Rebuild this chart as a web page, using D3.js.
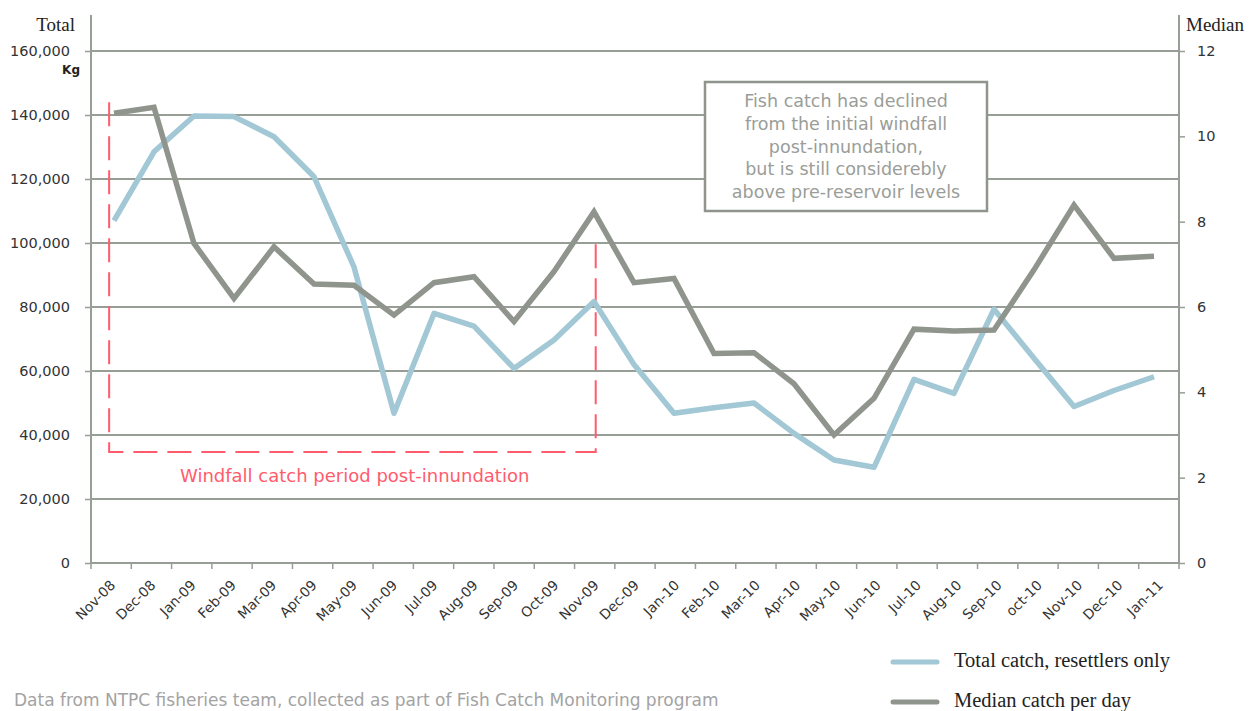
<!DOCTYPE html>
<html>
<head>
<meta charset="utf-8">
<script src="https://cdn.jsdelivr.net/npm/d3@7"></script>
<style>
  body { margin: 0; background: #fff; }
  svg { display: block; }
</style>
</head>
<body>
<div id="chart"></div>
<script>
// months on the category axis
const months = ["Nov-08","Dec-08","Jan-09","Feb-09","Mar-09","Apr-09","May-09","Jun-09","Jul-09","Aug-09","Sep-09","Oct-09","Nov-09",
  "Dec-09","Jan-10","Feb-10","Mar-10","Apr-10","May-10","Jun-10","Jul-10","Aug-10","Sep-10","oct-10","Nov-10","Dec-10","Jan-11"];

// total catch, resettlers only (kg) - left axis
const totalCatch = [107000,128500,139700,139500,133200,120700,92500,46800,78000,74000,60800,69700,81700,
  62000,46800,48500,50000,40500,32200,29900,57400,53000,79300,64000,48900,53900,58200];

// median catch per day - right axis
const medianCatch = [10.54,10.68,7.49,6.2,7.41,6.54,6.51,5.81,6.57,6.71,5.66,6.83,8.23,
  6.57,6.67,4.91,4.93,4.2,3.0,3.86,5.48,5.44,5.46,6.87,8.39,7.14,7.19];

const leftTicks = [0,20000,40000,60000,80000,100000,120000,140000,160000];
const rightTicks = [0,2,4,6,8,10,12];

const noteLines = ["Fish catch has declined","from the initial windfall","post-innundation,",
  "but is still considerebly","above pre-reservoir levels"];

const width = 1252, height = 711;
const x0 = 91, x1 = 1179, yTop = 51, yBot = 563;
const gridCol = "#979e95", blue = "#a2c7d5", grey = "#8f958d", red = "#ff5b6c";
const sans = "'DejaVu Sans', Verdana, sans-serif", serif = "'Liberation Serif', 'Times New Roman', serif";

const svg = d3.select("#chart").append("svg")
  .attr("width", width).attr("height", height);

const yL = d3.scaleLinear().domain([0,160000]).range([yBot,yTop]);
const yR = d3.scaleLinear().domain([0,12]).range([yBot,yTop]);
const xBand = d3.scaleBand().domain(months).range([x0,x1]);
// the plotted lines sit a little inside the category bands in the original
const xLine = d3.scalePoint().domain(months).range([114,1154]);

// grid
svg.append("g").selectAll("line")
  .data(leftTicks.filter(d => d > 0))
  .enter().append("line")
  .attr("x1", x0).attr("x2", x1)
  .attr("y1", d => yL(d)).attr("y2", d => yL(d))
  .attr("stroke", gridCol).attr("stroke-width", 2);

// left axis
const gl = svg.append("g").attr("transform", `translate(${x0},0)`)
  .call(d3.axisLeft(yL).tickValues(leftTicks).tickSize(6).tickPadding(15)
    .tickFormat(d3.format(",")));
gl.select(".domain").remove();
gl.selectAll(".tick line").attr("stroke", gridCol).attr("stroke-width", 1.5);
gl.selectAll("text").attr("font-family", sans)
  .attr("font-size", 14.5).attr("fill", "#333");

// right axis
const gr = svg.append("g").attr("transform", `translate(${x1},0)`)
  .call(d3.axisRight(yR).tickValues(rightTicks).tickSize(6).tickPadding(12));
gr.select(".domain").remove();
gr.selectAll(".tick line").attr("stroke", gridCol).attr("stroke-width", 1.5);
gr.selectAll("text").attr("font-family", sans)
  .attr("font-size", 14.5).attr("fill", "#333");

// bottom axis, labels at band centres, ticks at band edges
const gx = svg.append("g").attr("transform", `translate(0,${yBot})`)
  .call(d3.axisBottom(xBand).tickSize(0).tickPadding(0));
gx.select(".domain").remove();
gx.selectAll(".tick text")
  .attr("font-family", sans)
  .attr("font-size", 13.8).attr("fill", "#333")
  .attr("text-anchor", "end")
  .attr("dy", 0)
  .attr("transform", "translate(5,23) rotate(-45)");
svg.append("g").selectAll("line")
  .data(months.concat(["end"]))
  .enter().append("line")
  .attr("x1", (d,i) => x0 + i*xBand.step()).attr("x2", (d,i) => x0 + i*xBand.step())
  .attr("y1", yBot).attr("y2", yBot + 6)
  .attr("stroke", gridCol).attr("stroke-width", 1.5);

// axis lines
svg.append("line").attr("x1", x0).attr("x2", x0).attr("y1", 15).attr("y2", yBot)
  .attr("stroke", gridCol).attr("stroke-width", 2);
svg.append("line").attr("x1", x1).attr("x2", x1).attr("y1", 15).attr("y2", yBot)
  .attr("stroke", gridCol).attr("stroke-width", 2);
svg.append("line").attr("x1", x0).attr("x2", x1).attr("y1", yBot).attr("y2", yBot)
  .attr("stroke", gridCol).attr("stroke-width", 2);

// axis titles
svg.append("text").attr("x", 75).attr("y", 31).attr("text-anchor", "end")
  .attr("font-family", serif).attr("font-size", 19).attr("fill", "#222")
  .text("Total");
svg.append("text").attr("x", 80).attr("y", 74).attr("text-anchor", "end")
  .attr("font-family", sans).attr("font-size", 12).attr("font-weight", "bold")
  .attr("fill", "#222").text("Kg");
svg.append("text").attr("x", 1186).attr("y", 31)
  .attr("font-family", serif).attr("font-size", 19).attr("fill", "#222")
  .text("Median");

// windfall period box
const winTop = 144000, winBot = 34700;
svg.append("path")
  .attr("d", `M${xBand("Nov-08") + xBand.bandwidth()/2 - 2},${yL(winTop)} V${yL(winBot)} H${xBand("Nov-09") + xBand.bandwidth()/2 + 1} V${yL(100000)}`)
  .attr("fill", "none").attr("stroke", red).attr("stroke-width", 2)
  .attr("stroke-dasharray", "24,10");
svg.append("text").attr("x", 180).attr("y", 482)
  .attr("font-family", sans).attr("font-size", 18)
  .attr("fill", red).text("Windfall catch period post-innundation");

// series lines
const lineTotal = d3.line().x((d,i) => xLine(months[i])).y(d => yL(d));
const lineMedian = d3.line().x((d,i) => xLine(months[i])).y(d => yR(d));

svg.append("path").datum(totalCatch)
  .attr("d", lineTotal).attr("fill", "none")
  .attr("stroke", blue).attr("stroke-width", 5.5).attr("stroke-linejoin", "round");
svg.append("path").datum(medianCatch)
  .attr("d", lineMedian).attr("fill", "none")
  .attr("stroke", grey).attr("stroke-width", 5.5).attr("stroke-linejoin", "miter");

// note box
svg.append("rect").attr("x", 705).attr("y", 82).attr("width", 282).attr("height", 129)
  .attr("fill", "#fff").attr("stroke", grey).attr("stroke-width", 2.5);
svg.append("g").selectAll("text")
  .data(noteLines).enter().append("text")
  .attr("x", 846).attr("y", (d,i) => 107 + i*22.8)
  .attr("text-anchor", "middle")
  .attr("font-family", sans).attr("font-size", 17.5)
  .attr("fill", "#9a9d98").text(d => d);

// legend
const legend = svg.append("g");
[["Total catch, resettlers only", blue, 662], ["Median catch per day", grey, 702]].forEach(l => {
  legend.append("line").attr("x1", 893).attr("x2", 937).attr("y1", l[2]).attr("y2", l[2])
    .attr("stroke", l[1]).attr("stroke-width", 5).attr("stroke-linecap", "round");
  legend.append("text").attr("x", 954).attr("y", l[2] + 4.5)
    .attr("font-family", serif).attr("font-size", 20.5).attr("fill", "#222")
    .text(l[0]);
});

// source note
svg.append("text").attr("x", 14).attr("y", 706)
  .attr("font-family", sans).attr("font-size", 17)
  .attr("fill", "#a3a3a3")
  .text("Data from NTPC fisheries team, collected as part of Fish Catch Monitoring program");
</script>
</body>
</html>
